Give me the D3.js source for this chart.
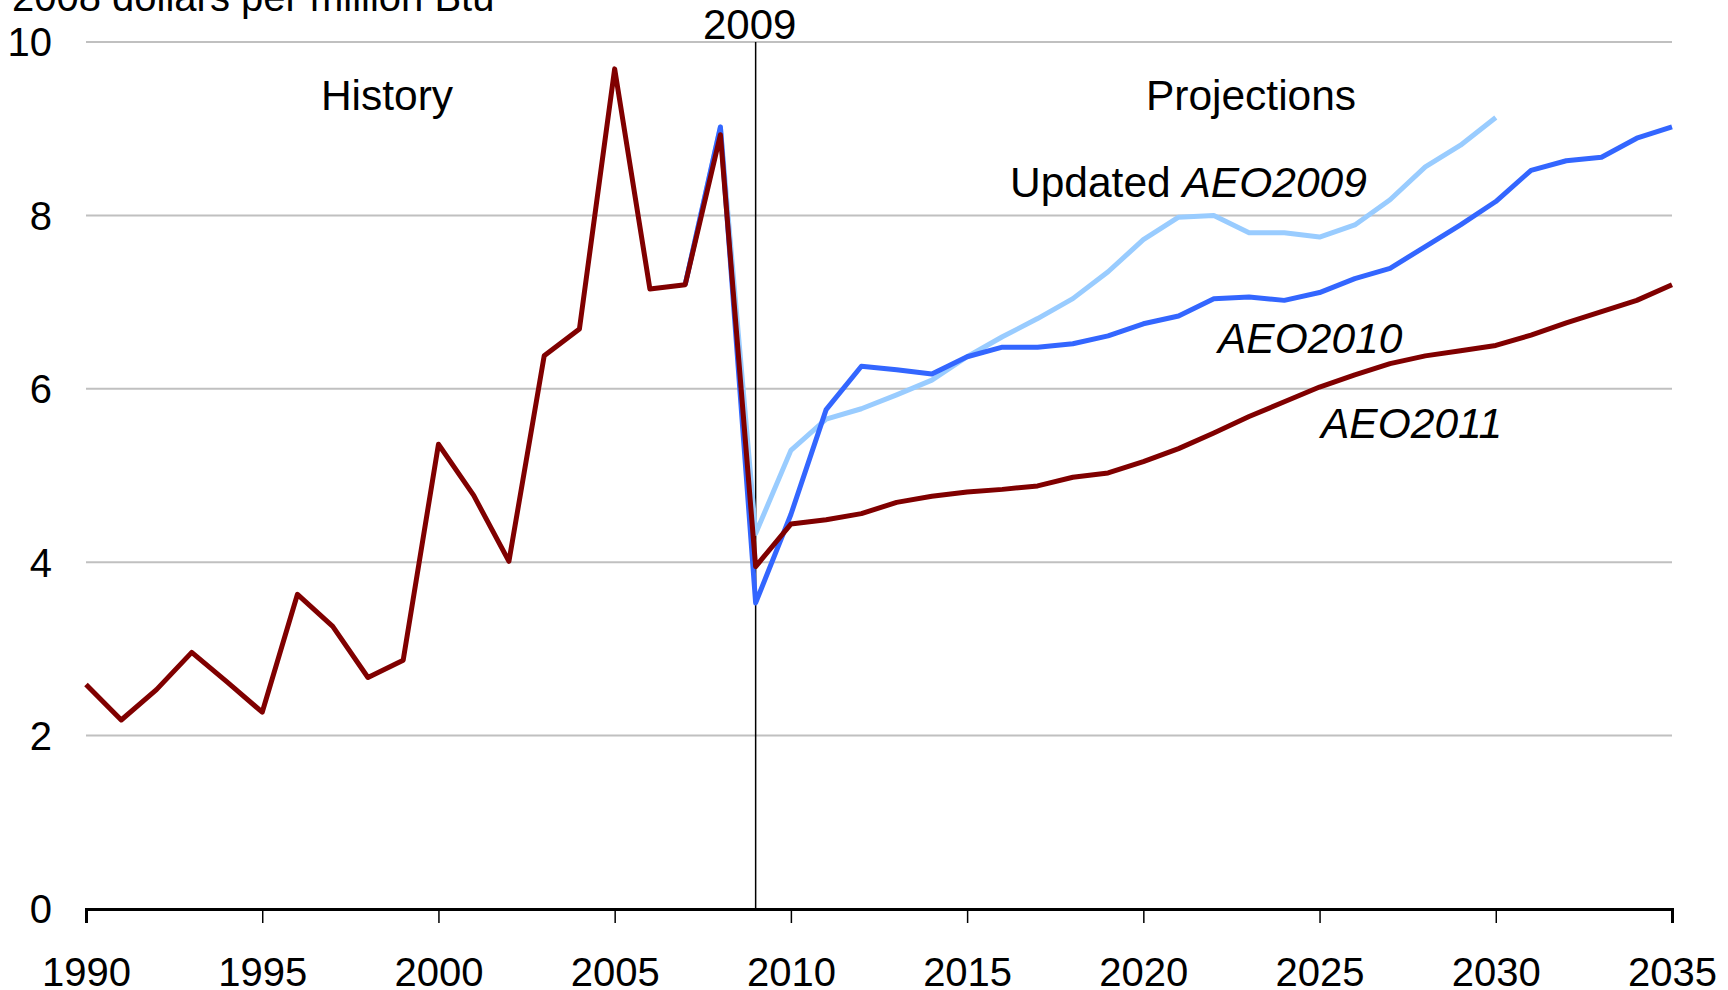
<!DOCTYPE html>
<html lang="en">
<head>
  <meta charset="UTF-8">
  <title>Natural gas price projections</title>
  <style>
    body { margin: 0; background: #ffffff; }
    svg { display: block; font-family: 'Liberation Sans', Arial, sans-serif; }
  </style>
  <script src="https://d3js.org/d3.v7.min.js"></script>
</head>
<body>
  <div id="chart"></div>
  <script>
    const WIDTH = 1728, HEIGHT = 990;
    const M = { top: 42, right: 56, bottom: 81, left: 86 };

    // history + AEO2011 (dark red)
    const yearsAeo2011 = d3.range(1990, 2036);
    const aeo2011 = [2.59, 2.18, 2.53, 2.96, 2.62, 2.27, 3.63, 3.26, 2.67, 2.87,
                     5.36, 4.77, 4.01, 6.38, 6.69, 9.69, 7.15, 7.20, 8.93, 3.95,
                     4.44, 4.49, 4.56, 4.69, 4.76, 4.81, 4.84, 4.88, 4.98, 5.03,
                     5.16, 5.31, 5.49, 5.68, 5.85, 6.02, 6.16, 6.29, 6.38, 6.44,
                     6.50, 6.62, 6.76, 6.89, 7.02, 7.20];

    // AEO2010 (blue)
    const yearsAeo2010 = d3.range(2007, 2036);
    const aeo2010 = [7.20, 9.02, 3.53, 4.55, 5.76, 6.26, 6.22, 6.17, 6.37, 6.48,
                     6.48, 6.52, 6.61, 6.75, 6.84, 7.04, 7.06, 7.02, 7.11, 7.27,
                     7.39, 7.64, 7.89, 8.16, 8.52, 8.63, 8.67, 8.89, 9.02];

    // Updated AEO2009 (light blue)
    const yearsAeo2009 = d3.range(2007, 2031);
    const aeo2009 = [7.20, 9.02, 4.33, 5.29, 5.65, 5.77, 5.93, 6.10, 6.37, 6.60,
                     6.81, 7.04, 7.35, 7.72, 7.98, 8.00, 7.80, 7.80, 7.75, 7.89,
                     8.18, 8.56, 8.81, 9.13];

    const xTicks = d3.range(1990, 2036, 5);
    const yTicks = [0, 2, 4, 6, 8, 10];

    const svg = d3.select('#chart').append('svg')
      .attr('width', WIDTH).attr('height', HEIGHT);

    const x = d3.scaleLinear().domain([1990, 2035]).range([M.left, WIDTH - M.right]);
    const y = d3.scaleLinear().domain([0, 10]).range([HEIGHT - M.bottom, M.top]);

    // gridlines
    svg.append('g')
      .selectAll('line').data(yTicks).join('line')
      .attr('x1', x(1990)).attr('x2', x(2035))
      .attr('y1', d => y(d)).attr('y2', d => y(d))
      .attr('stroke', '#c0c0c0').attr('stroke-width', 2);

    // y labels
    svg.append('g')
      .selectAll('text').data(yTicks).join('text')
      .attr('x', 52).attr('y', d => y(d)).attr('dy', '0.36em')
      .attr('text-anchor', 'end').attr('font-size', 40)
      .text(d => d);

    svg.append('text')
      .attr('x', 12).attr('y', 11)
      .attr('font-size', 40)
      .text('2008 dollars per million Btu');

    // x axis
    const xAxis = svg.append('g')
      .attr('transform', `translate(0,${y(0)})`)
      .call(d3.axisBottom(x).tickValues(xTicks).tickFormat(d3.format('d')).tickSize(14).tickPadding(35));
    xAxis.select('.domain').attr('stroke', '#000').attr('stroke-width', 3);
    xAxis.selectAll('.tick line').attr('stroke', '#000').attr('stroke-width', 1.5);
    xAxis.selectAll('.tick text')
      .attr('font-size', 40).attr('fill', '#000')
      .attr('font-family', "'Liberation Sans', Arial, sans-serif");

    // 2009 divider
    svg.append('line')
      .attr('x1', x(2009)).attr('x2', x(2009))
      .attr('y1', y(10)).attr('y2', y(0))
      .attr('stroke', '#000').attr('stroke-width', 1.5);
    svg.append('text')
      .attr('x', x(2009) - 6).attr('y', 39)
      .attr('text-anchor', 'middle').attr('font-size', 42)
      .text('2009');

    const line = d3.line().x(d => x(d[0])).y(d => y(d[1]));
    const series = [
      { years: yearsAeo2009, values: aeo2009, color: '#99ccff' },
      { years: yearsAeo2010, values: aeo2010, color: '#3366ff' },
      { years: yearsAeo2011, values: aeo2011, color: '#800000' }
    ];
    svg.append('g')
      .selectAll('path').data(series).join('path')
      .attr('d', s => line(s.years.map((yr, i) => [yr, s.values[i]])))
      .attr('fill', 'none')
      .attr('stroke', s => s.color)
      .attr('stroke-width', 5)
      .attr('stroke-linejoin', 'round');

    // annotations
    const ann = svg.append('g').attr('font-size', 42.5);
    ann.append('text').attr('x', 387).attr('y', 110).attr('text-anchor', 'middle').text('History');
    ann.append('text').attr('x', 1251).attr('y', 110).attr('text-anchor', 'middle').text('Projections');
    const upd = ann.append('text').attr('x', 1010).attr('y', 197);
    upd.append('tspan').text('Updated ');
    upd.append('tspan').attr('font-style', 'italic').text('AEO2009');
    ann.append('text').attr('x', 1218).attr('y', 353).attr('font-style', 'italic').text('AEO2010');
    ann.append('text').attr('x', 1321).attr('y', 438).attr('font-style', 'italic').text('AEO2011');
  </script>
</body>
</html>
